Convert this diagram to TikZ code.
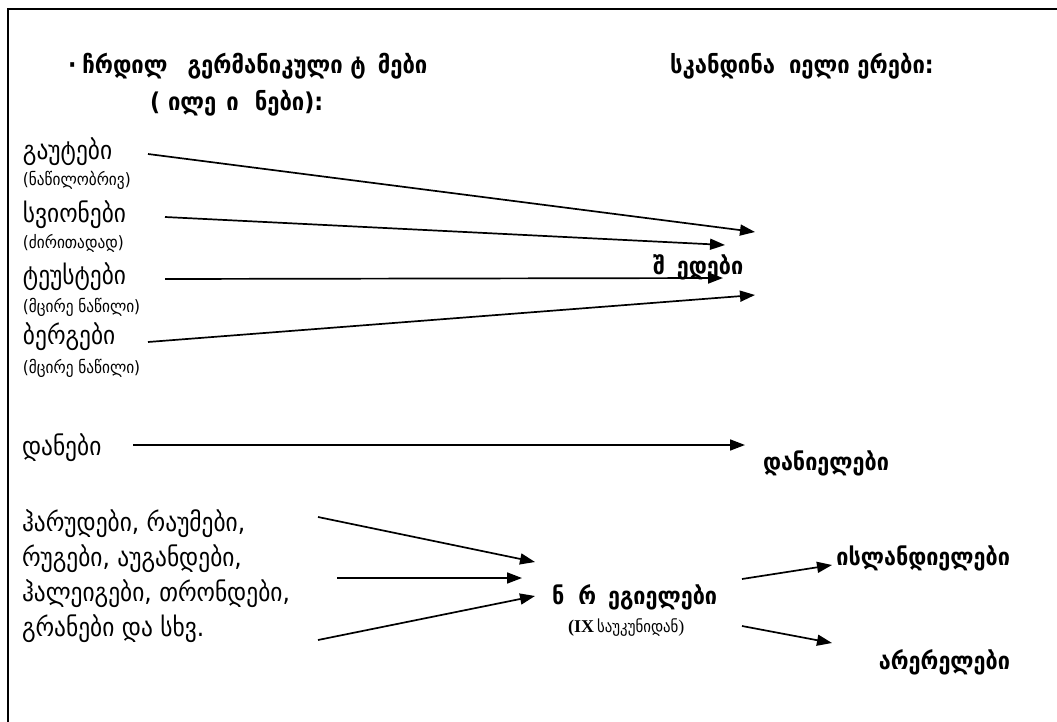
\documentclass[tikz,border=0pt]{standalone}
\usepackage{fontspec}
\setmainfont{DejaVu Sans}
\newfontfamily\gf[FakeStretch=0.9]{DejaVu Sans}
\newfontfamily\gfb[FakeStretch=0.9]{DejaVu Sans Bold}
\newfontfamily\tms{Liberation Serif}
\usetikzlibrary{arrows.meta}
\begin{document}
\begin{tikzpicture}[x=1pt,y=-1pt,
  every node/.style={inner sep=0pt, outer sep=0pt, anchor=west},
  item/.style={font=\gf\fontsize{26}{28}\selectfont},
  note/.style={font=\gf\fontsize{17}{19}\selectfont},
  head/.style={font=\gfb\fontsize{24.5}{26}\selectfont},
  res/.style={font=\gfb\fontsize{24}{26}\selectfont},
  arr/.style={line width=1.7pt, -{Triangle[length=15pt,width=11pt]}},
]
\useasboundingbox (0,0) rectangle (1057,722);
\draw[line width=2pt] (8,722) -- (8,9) -- (1057,9);

\node[head] (t1) at (68,66) {·\hspace{6pt}ჩრდილ\hspace{20pt}გერმანიკული ტ\hspace{12pt}მები};
\node[head] (t2) at (150,103) {(\hspace{8pt}ილე\hspace{10pt}ი\hspace{16pt}ნები):};
\node[head] (t3) at (670,66) {სკანდინა\hspace{14pt}იელი ერები:};

\node[item] (g1) at (23,152) {გაუტები};
\node[note] (g1n) at (23,180) {(ნაწილობრივ)};
\node[item] (g2) at (23,215) {სვიონები};
\node[note] (g2n) at (23,243) {(ძირითადად)};
\node[item] (g3) at (23,277) {ტეუსტები};
\node[note] (g3n) at (23,307) {(მცირე ნაწილი)};
\node[item] (g4) at (23,337) {ბერგები};
\node[note] (g4n) at (23,368) {(მცირე ნაწილი)};
\node[res] (sw) at (653,267) {შ\hspace{12pt}ედები};

\node[item] (dan) at (22,448) {დანები};
\node[res] (dani) at (763,463) {დანიელები};

\node[item] (l1) at (22,524) {ჰარუდები, რაუმები,};
\node[item] (l2) at (22,559) {რუგები, აუგანდები,};
\node[item] (l3) at (22,594) {ჰალეიგები, თრონდები,};
\node[item] (l4) at (22,629) {გრანები და სხვ.};

\node[res] (nor) at (552,597) {ნ\hspace{14pt}რ\hspace{12pt}ეგიელები};
\node (ix) at (568,628) {{\tms\bfseries\fontsize{18}{20}\selectfont (IX} {\gf\fontsize{16.5}{18}\selectfont საუკუნიდან}{\tms\fontsize{18}{20}\selectfont )}};
\node[res, anchor=east] (isl) at (1010,558) {ისლანდიელები};
\node[res, anchor=east] (arer) at (1010,662) {არერელები};

\coordinate (s1) at (148,154); \coordinate (e1) at (755,232);
\coordinate (s2) at (165,217); \coordinate (e2) at (725,245);
\coordinate (s3) at (165,279); \coordinate (e3) at (723,278);
\coordinate (s4) at (148,342); \coordinate (e4) at (755,295);
\coordinate (s5) at (133,445); \coordinate (e5) at (745,445);
\coordinate (s6) at (318,517); \coordinate (e6) at (535,562);
\coordinate (s7) at (337,578); \coordinate (e7) at (522,578);
\coordinate (s8) at (318,640); \coordinate (e8) at (535,596);
\coordinate (s9) at (742,579); \coordinate (e9) at (832,565);
\coordinate (s10) at (742,626); \coordinate (e10) at (832,643);

\draw[arr] (s1) -- (e1);
\draw[arr] (s2) -- (e2);
\draw[arr] (s3) -- (e3);
\draw[arr] (s4) -- (e4);
\draw[arr] (s5) -- (e5);
\draw[arr] (s6) -- (e6);
\draw[arr] (s7) -- (e7);
\draw[arr] (s8) -- (e8);
\draw[arr] (s9) -- (e9);
\draw[arr] (s10) -- (e10);
\end{tikzpicture}
\end{document}
